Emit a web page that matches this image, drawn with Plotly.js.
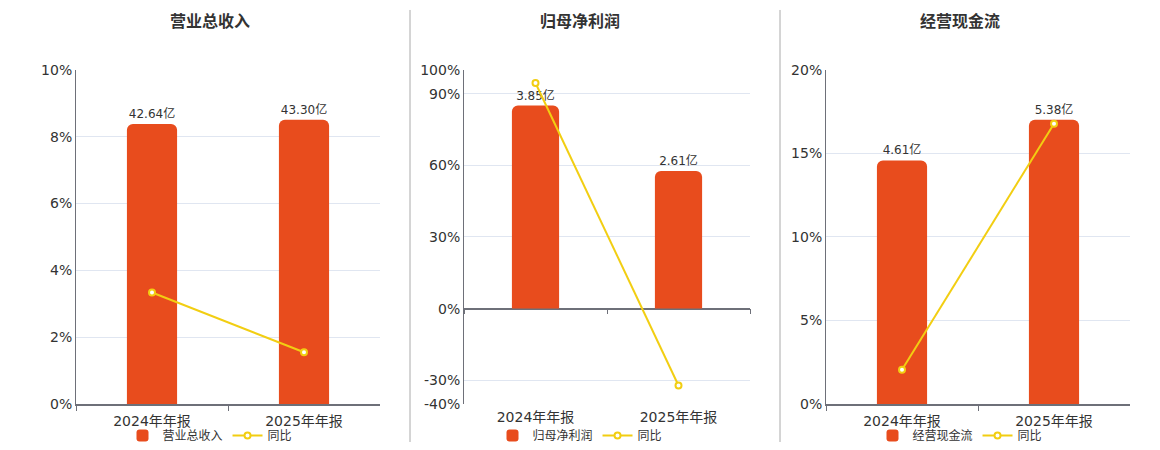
<!DOCTYPE html>
<html>
<head>
<meta charset="utf-8">
<script src="https://cdn.plot.ly/plotly-3.0.1.min.js"></script>
<style>
  html, body { margin: 0; padding: 0; background: #fff; }
  #myDiv { width: 1160px; height: 450px; }
</style>
</head>
<body>
<div id="myDiv"></div>
<script>
var categories = ["2024年年报", "2025年年报"];

var revenue = [42.64, 43.30];
var revenueYoy = [3.34, 1.55];
var revenueText = ["42.64亿", "43.30亿"];

var profit = [3.85, 2.61];
var profitYoy = [94.5, -32.2];
var profitText = ["3.85亿", "2.61亿"];

var cashflow = [4.61, 5.38];
var cashflowYoy = [2.05, 16.78];
var cashflowText = ["4.61亿", "5.38亿"];

var panelTitles = ["营业总收入", "归母净利润", "经营现金流"];
var profitTickVals = [-40, -30, 0, 30, 60, 90, 100];
var profitTickText = ["-40%", "-30%", "0%", "30%", "60%", "90%", "100%"];

var W = 1160, H = 450;
var barColor = '#e84c1d';
var lineColor = '#f2ce12';
var axisColor = '#6e7079';
var gridColor = '#e0e6f1';
var textColor = '#333333';
var fontFamily = 'DejaVu Sans, Noto Sans CJK SC, sans-serif';

function barTrace(vals, txt, name, xa, ya, lg) {
  return {
    x: categories, y: vals, text: txt, name: name,
    type: 'bar', xaxis: xa, yaxis: ya, legend: lg,
    width: 0.33,
    marker: { color: barColor, cornerradius: 6 },
    textposition: 'outside', cliponaxis: false,
    textfont: { size: 12, color: textColor },
    hoverinfo: 'x+text'
  };
}

function lineTrace(vals, xa, ya, lg) {
  return {
    x: categories, y: vals, name: '同比',
    type: 'scatter', mode: 'lines+markers', xaxis: xa, yaxis: ya, legend: lg,
    line: { color: lineColor, width: 2 },
    marker: { symbol: 'circle', size: 6, color: '#ffffff', line: { color: lineColor, width: 2 } },
    cliponaxis: false
  };
}

var data = [
  barTrace(revenue, revenueText, '营业总收入', 'x', 'y', 'legend'),
  lineTrace(revenueYoy, 'x', 'y2', 'legend'),
  barTrace(profit, profitText, '归母净利润', 'x2', 'y3', 'legend2'),
  lineTrace(profitYoy, 'x2', 'y4', 'legend2'),
  // carries the boundary ticks on the zero line of the middle panel
  { x: categories, y: [null, null], type: 'scatter', mode: 'markers', xaxis: 'x4', yaxis: 'y4',
    showlegend: false, hoverinfo: 'skip' },
  barTrace(cashflow, cashflowText, '经营现金流', 'x3', 'y5', 'legend3'),
  lineTrace(cashflowYoy, 'x3', 'y6', 'legend3')
];

var yDom = [45 / H, 380 / H];

function catAxis(dom, anchor) {
  return {
    domain: dom, anchor: anchor, type: 'category', range: [-0.5, 1.5],
    showline: true, linecolor: axisColor, linewidth: 2,
    ticks: 'outside', tickson: 'boundaries', ticklen: 5, tickcolor: axisColor,
    ticklabelstandoff: 3,
    showgrid: false, fixedrange: true,
    tickfont: { size: 14, color: textColor }
  };
}

function hiddenAxis(range, anchor) {
  return { domain: yDom, anchor: anchor, range: range, visible: false, fixedrange: true };
}

function pctAxis(over, anchor, range, extra) {
  var a = {
    overlaying: over, anchor: anchor, side: 'left', range: range,
    ticksuffix: '%', showgrid: true, gridcolor: gridColor, gridwidth: 1,
    showline: true, linecolor: axisColor, linewidth: 1,
    zeroline: false, ticks: '', fixedrange: true,
    tickfont: { size: 14, color: textColor }
  };
  for (var k in extra) a[k] = extra[k];
  return a;
}

var x2 = catAxis([464 / W, 750 / W], 'y3');
x2.showline = false;
x2.tickcolor = 'rgba(0,0,0,0)';

function legendAt(px) {
  return { orientation: 'h', x: px / W, xanchor: 'center', y: 14 / H, yanchor: 'middle',
    font: { size: 12, color: textColor }, bgcolor: 'rgba(0,0,0,0)' };
}

var layout = {
  width: W, height: H,
  margin: { l: 0, r: 0, t: 0, b: 0 },
  paper_bgcolor: '#ffffff', plot_bgcolor: 'rgba(0,0,0,0)',
  font: { family: fontFamily, color: textColor },
  showlegend: true,
  xaxis: catAxis([76 / W, 380 / W], 'y'),
  yaxis: hiddenAxis([0, 50.9], 'x'),
  yaxis2: pctAxis('y', 'x', [0, 10], { dtick: 2 }),
  xaxis2: x2,
  yaxis3: hiddenAxis([-4.526 * 0.4, 4.526], 'x2'),
  yaxis4: pctAxis('y3', 'x2', [-40, 100], {
    tickmode: 'array', tickvals: profitTickVals, ticktext: profitTickText, ticksuffix: '',
    zeroline: true, zerolinecolor: axisColor, zerolinewidth: 2
  }),
  xaxis4: {
    overlaying: 'x2', anchor: 'free', position: (H - 309) / H, type: 'category', range: [-0.5, 1.5],
    showline: false, ticks: 'outside', tickson: 'boundaries', ticklen: 5, tickcolor: axisColor,
    showticklabels: false, showgrid: false, fixedrange: true
  },
  xaxis3: catAxis([826 / W, 1130 / W], 'y5'),
  yaxis5: hiddenAxis([0, 6.324], 'x3'),
  yaxis6: pctAxis('y5', 'x3', [0, 20], { dtick: 5 }),
  legend: legendAt(210),
  legend2: legendAt(580),
  legend3: legendAt(960),
  annotations: [
    { text: '<b>' + panelTitles[0] + '</b>', x: 210 / W, y: (H - 22) / H },
    { text: '<b>' + panelTitles[1] + '</b>', x: 580 / W, y: (H - 22) / H },
    { text: '<b>' + panelTitles[2] + '</b>', x: 960 / W, y: (H - 22) / H }
  ].map(function (a) {
    a.xref = 'paper'; a.yref = 'paper'; a.showarrow = false;
    a.xanchor = 'center'; a.yanchor = 'middle';
    a.font = { size: 16, color: textColor };
    return a;
  }),
  shapes: [410, 780].map(function (px) {
    return { type: 'line', xref: 'paper', yref: 'paper', x0: px / W, x1: px / W,
      y0: (H - 443) / H, y1: (H - 10) / H, line: { color: '#aaaaaa', width: 1 } };
  })
};

Plotly.newPlot('myDiv', data, layout, { displayModeBar: false, staticPlot: true });
</script>
</body>
</html>
